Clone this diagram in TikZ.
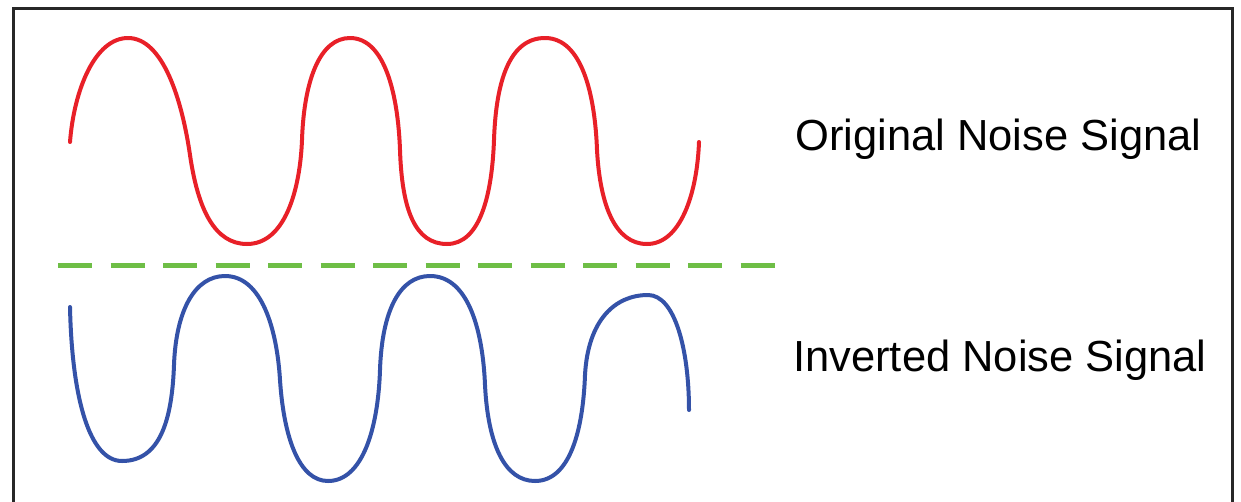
\documentclass[tikz,border=0pt]{standalone}
\usepackage{fontspec}
\setmainfont{Liberation Sans}
\definecolor{sigred}{RGB}{232,32,40}
\definecolor{sigblue}{RGB}{52,82,168}
\definecolor{siggreen}{RGB}{110,190,70}
\definecolor{framegray}{RGB}{40,40,40}
\tikzset{
  frameline/.style={draw=framegray, line width=3pt},
  wave/.style={line width=4pt, line cap=round, line join=round},
  baseline/.style={draw=siggreen, line width=5pt, dash pattern=on 34pt off 18.5pt},
  label/.style={anchor=base west, inner sep=0pt, font=\fontsize{43.5}{50}\selectfont, text=black}
}
\begin{document}
\begin{tikzpicture}[x=1pt, y=-1pt]
\useasboundingbox (0,0) rectangle (1241,501);
\fill[white] (0,0) rectangle (1241,501);
% frame
\draw[frameline] (13,505) -- (13,8) -- (1232,8) -- (1232,505);
% original noise (red)
\draw[wave, sigred] (70,142) .. controls (74,90) and (95,38) .. (128,38)
  .. controls (163,38) and (182,100) .. (190,155)
  .. controls (198,210) and (215,244) .. (247,244)
  .. controls (285,244) and (300,190) .. (302,140)
  .. controls (304,80) and (320,38) .. (350,38)
  .. controls (385,38) and (398,95) .. (400,150)
  .. controls (402,210) and (415,244) .. (447,244)
  .. controls (480,244) and (492,195) .. (494,140)
  .. controls (496,80) and (510,38) .. (545,38)
  .. controls (582,38) and (595,95) .. (597,150)
  .. controls (600,205) and (615,244) .. (647,244)
  .. controls (680,244) and (697,195) .. (699,142);
% dashed zero line
\draw[baseline] (58,265) -- (776,265);
% inverted noise (blue)
\draw[wave, sigblue] (70,307) .. controls (72,400) and (90,461) .. (122,461)
  .. controls (160,461) and (172,420) .. (174,365)
  .. controls (176,310) and (195,276) .. (225,276)
  .. controls (262,276) and (277,330) .. (280,380)
  .. controls (284,440) and (300,481) .. (328,481)
  .. controls (362,481) and (378,430) .. (380,370)
  .. controls (382,310) and (400,276) .. (430,276)
  .. controls (470,276) and (483,335) .. (485,385)
  .. controls (488,445) and (505,481) .. (535,481)
  .. controls (570,481) and (583,430) .. (585,375)
  .. controls (588,320) and (615,295) .. (648,295)
  .. controls (675,295) and (689,350) .. (689,410);
% labels
\node[label] (orig) at (795,150) {Original Noise Signal};
\node[label] (inv) at (793,371) {Inverted Noise Signal};
\end{tikzpicture}
\end{document}
